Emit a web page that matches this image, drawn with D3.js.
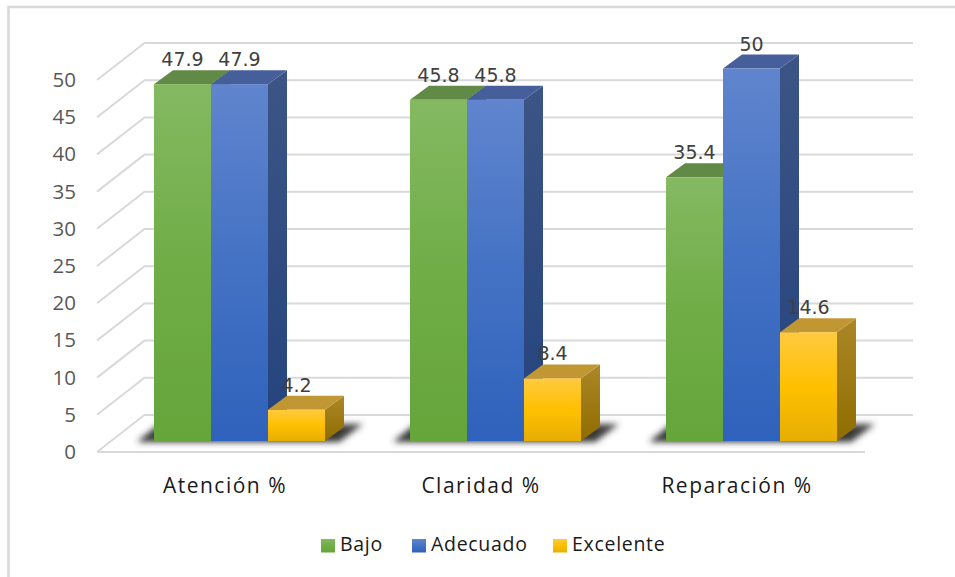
<!DOCTYPE html>
<html lang="es">
<head>
<meta charset="utf-8">
<title>Atención, Claridad y Reparación</title>
<script src="https://cdn.jsdelivr.net/npm/d3@7/dist/d3.min.js"></script>
<style>
  html, body { margin: 0; padding: 0; background: #fff; }
  svg { display: block; }
</style>
</head>
<body>
<svg id="chart" width="955" height="577"></svg>
<script>
// Chart values
const categories = ["Atención %", "Claridad %", "Reparación %"];
const seriesNames = ["Bajo", "Adecuado", "Excelente"];
const bajo = [47.9, 45.8, 35.4];
const adecuado = [47.9, 45.8, 50];
const excelente = [4.2, 8.4, 14.6];
const seriesValues = [bajo, adecuado, excelente];
const yTicks = [0, 5, 10, 15, 20, 25, 30, 35, 40, 45, 50];

// Colour ramps per series: front face stops, side face stops, top face
const frontStops = [
  ["#84b962", "#70ad47", "#65a53a"],
  ["#6085ce", "#4472c4", "#2f62bc"],
  ["#ffca40", "#ffc000", "#e6ae04"]
];
const sideStops = [
  ["#5a8040", "#44692c"],
  ["#3c5585", "#24437e"],
  ["#ab8728", "#8f6d00"]
];
const topFaces = ["#628a47", "#465f9b", "#c09733"];

// 3D box projection offset
const depthX = 19, depthY = 14;
// Wall offset between the front plane of the axis and the back wall
const wallX = 47.5, wallY = 37;

const svg = d3.select("#chart");
const defs = svg.append("defs");

const x = d3.scaleBand().domain(categories).range([97, 865]);
const xInner = d3.scaleBand().domain(seriesNames).range([57, 228]);
const yAxisScale = d3.scaleLinear().domain([0, 50]).range([452, 80]);
const yBar = d3.scaleLinear().domain([0, 50]).range([441, 68.5]);
const yBack = v => yAxisScale(v) - wallY;

// Gradients and shadow blur
seriesNames.forEach((name, i) => {
  const f = defs.append("linearGradient").attr("id", `front${i}`)
    .attr("x1", 0).attr("y1", 0).attr("x2", 0).attr("y2", 1);
  [0, 0.5, 1].forEach((o, k) => f.append("stop").attr("offset", o).attr("stop-color", frontStops[i][k]));
  const s = defs.append("linearGradient").attr("id", `side${i}`)
    .attr("x1", 0).attr("y1", 0).attr("x2", 0).attr("y2", 1);
  [0, 1].forEach((o, k) => s.append("stop").attr("offset", o).attr("stop-color", sideStops[i][k]));
});
const soft = defs.append("filter").attr("id", "soft")
  .attr("filterUnits", "userSpaceOnUse")
  .attr("x", 90).attr("y", 400).attr("width", 800).attr("height", 60);
soft.append("feGaussianBlur").attr("stdDeviation", 3.4);
const shadowFade = defs.append("linearGradient").attr("id", "shadowFade")
  .attr("x1", 0).attr("y1", 0).attr("x2", 0).attr("y2", 1);
shadowFade.append("stop").attr("offset", 0).attr("stop-color", "#444444");
shadowFade.append("stop").attr("offset", 1).attr("stop-color", "#303030");

// Outer frame: top and left edges only
svg.append("path")
  .attr("d", d3.line()([[955, 7], [8.5, 7], [8.5, 577]]))
  .attr("fill", "none").attr("stroke", "#d9d9d9").attr("stroke-width", 2.6);

// Back wall gridlines with their side wall diagonals
const grid = svg.append("g").attr("fill", "none").attr("stroke", "#d9d9d9").attr("stroke-width", 2);
yTicks.forEach(v => {
  const yF = yAxisScale(v), yB = yBack(v);
  grid.append("path").attr("d", d3.line()([[97, yF], [97 + wallX, yB], [913, yB]]));
});
grid.append("line").attr("x1", 97).attr("x2", 865)
  .attr("y1", yAxisScale(0)).attr("y2", yAxisScale(0));

// Floor shadows under each cluster
const shadows = svg.append("g").attr("filter", "url(#soft)");
categories.forEach(c => {
  const left = x(c) + xInner(seriesNames[0]);
  const right = x(c) + xInner(seriesNames[2]) + xInner.bandwidth();
  shadows.append("polygon")
    .attr("points", [
      [left - 17, yBar(0) + 1], [left + 5, yBar(0) - 17],
      [right + 38, yBar(0) - 17], [right + 14, yBar(0) + 1]
    ].join(" "))
    .attr("fill", "url(#shadowFade)");
});

// Bars: side, top and front faces
const bars = svg.append("g");
categories.forEach((c, ci) => {
  seriesNames.forEach((name, si) => {
    const v = seriesValues[si][ci];
    const x0 = x(c) + xInner(name), x1 = x0 + xInner.bandwidth();
    const yT = yBar(v), yB = yBar(0);
    const g = bars.append("g");
    g.append("polygon")
      .attr("points", [[x1, yT], [x1 + depthX, yT - depthY], [x1 + depthX, yB - depthY], [x1, yB]].join(" "))
      .attr("fill", `url(#side${si})`);
    g.append("polygon")
      .attr("points", [[x0, yT], [x0 + depthX, yT - depthY], [x1 + depthX, yT - depthY], [x1, yT]].join(" "))
      .attr("fill", topFaces[si]);
    g.append("rect")
      .attr("x", x0).attr("y", yT)
      .attr("width", x1 - x0).attr("height", yB - yT)
      .attr("fill", `url(#front${si})`);
  });
});

// Value labels above each bar
const labels = svg.append("g")
  .attr("text-anchor", "middle").attr("fill", "#404040")
  .style("font-family", "'DejaVu Sans', sans-serif").style("font-size", "19px");
categories.forEach((c, ci) => {
  seriesNames.forEach((name, si) => {
    const v = seriesValues[si][ci];
    labels.append("text")
      .attr("x", x(c) + xInner(name) + xInner.bandwidth() / 2)
      .attr("y", yBar(v) - 18)
      .text(v);
  });
});

// Value axis
const yAxis = svg.append("g").attr("transform", "translate(82,0)")
  .call(d3.axisLeft(yAxisScale).tickValues(yTicks).tickSize(0).tickPadding(6));
yAxis.select(".domain").remove();
yAxis.selectAll("text")
  .attr("fill", "#595959").style("font-size", "20.5px")
  .style("font-family", "'Open Sans', sans-serif");

// Category axis
const xAxis = svg.append("g").attr("transform", "translate(0,469)")
  .call(d3.axisBottom(x).tickSize(0).tickPadding(9));
xAxis.select(".domain").remove();
xAxis.selectAll("text")
  .attr("fill", "#1a1a1a").style("font-size", "21px").style("letter-spacing", "1.5px")
  .style("font-family", "'Open Sans', sans-serif");

// Legend
const legendX = [321, 412, 553];
const legend = svg.append("g");
seriesNames.forEach((name, i) => {
  legend.append("rect")
    .attr("x", legendX[i]).attr("y", 539)
    .attr("width", 14).attr("height", 13.5)
    .attr("fill", `url(#front${i})`);
  legend.append("text")
    .attr("x", legendX[i] + 19).attr("y", 551)
    .attr("fill", "#1a1a1a").style("font-size", "19.5px").style("letter-spacing", "0.7px")
    .style("font-family", "'Open Sans', sans-serif")
    .text(name);
});
</script>
</body>
</html>
